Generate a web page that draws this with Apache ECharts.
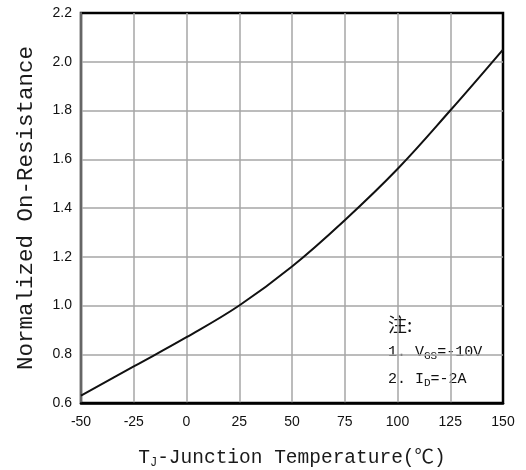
<!DOCTYPE html>
<html>
<head>
<meta charset="utf-8" />
<title></title>
<script src="https://cdn.jsdelivr.net/npm/echarts@6/dist/echarts.min.js"></script>
<style>
  html, body { margin: 0; padding: 0; background: #fff; }
  #main { width: 526px; height: 470px; }
</style>
</head>
<body>
<div id="main"></div>
<script>
// junction temperature (C) and normalized on-resistance
var temps = [-50, -25, 0, 25, 50, 75, 100, 125, 150];
var rdsNorm = [0.63, 0.75, 0.87, 1.0, 1.16, 1.35, 1.56, 1.80, 2.05];
var noteLines = ['注:', '1. V{s|GS}=-10V', '2. I{s|D}=-2A'];

var mono = '"Liberation Mono", "Noto Sans CJK SC", monospace';
var chart = echarts.init(document.getElementById('main'));

var points = temps.map(function (t, i) { return [t, rdsNorm[i]]; });

var option = {
  animation: false,
  grid: {
    left: 81, right: 23, top: 13, bottom: 67,
    outerBoundsMode: 'none',
    show: true, borderColor: '#000', borderWidth: 2.5
  },
  xAxis: {
    type: 'value',
    min: -50, max: 150, interval: 25,
    name: '{a|T}{s|J}{a|-Junction Temperature(℃)}',
    nameLocation: 'middle',
    nameGap: 44,
    nameTextStyle: {
      rich: {
        a: { fontFamily: mono, fontSize: 19.5, color: '#1a1a1a' },
        s: { fontFamily: mono, fontSize: 12, color: '#1a1a1a', padding: [10, 0, 0, 0] }
      }
    },
    axisLine: { onZero: false, lineStyle: { color: '#000', width: 2.5 } },
    axisTick: { show: false },
    axisLabel: { fontFamily: '"Liberation Sans", Arial', fontSize: 14, color: '#111', margin: 12 },
    splitLine: { showMinLine: false, showMaxLine: false, lineStyle: { color: '#a6a6a6', width: 1.5 } }
  },
  yAxis: {
    type: 'value',
    min: 0.6, max: 2.2, interval: 0.2,
    name: 'Normalized On-Resistance',
    nameLocation: 'middle',
    nameGap: 44,
    nameTextStyle: { fontFamily: mono, fontSize: 22.5, color: '#1a1a1a' },
    axisLine: { show: true, onZero: false, lineStyle: { color: '#666', width: 2 } },
    axisTick: { show: false },
    axisLabel: {
      fontFamily: '"Liberation Sans", Arial', fontSize: 14, color: '#111', margin: 9,
      formatter: function (v) { return v.toFixed(1); }
    },
    splitLine: { showMinLine: false, showMaxLine: false, lineStyle: { color: '#a6a6a6', width: 1.5 } }
  },
  series: [{
    type: 'line',
    data: points,
    smooth: 0.4,
    showSymbol: false,
    lineStyle: { color: '#111', width: 2 },
    z: 5
  }],
  graphic: [{
    type: 'group',
    left: 380, top: 307,
    z: 10,
    children: [
      { type: 'rect', shape: { x: 0, y: 0, width: 113, height: 88 }, style: { fill: '#fff' } },
      {
        type: 'text', left: 8, top: 8,
        style: { text: noteLines[0], font: '19px "Noto Sans CJK SC"', fill: '#111' }
      },
      {
        type: 'text', left: 8, top: 38,
        style: {
          text: noteLines[1], fill: '#111',
          font: '15px ' + mono,
          rich: { s: { fontSize: 11, fontFamily: mono, fill: '#111', padding: [7, 0, 0, 0] } }
        }
      },
      {
        type: 'text', left: 8, top: 65,
        style: {
          text: noteLines[2], fill: '#111',
          font: '15px ' + mono,
          rich: { s: { fontSize: 11, fontFamily: mono, fill: '#111', padding: [7, 0, 0, 0] } }
        }
      }
    ]
  }]
};

chart.setOption(option);
</script>
</body>
</html>
